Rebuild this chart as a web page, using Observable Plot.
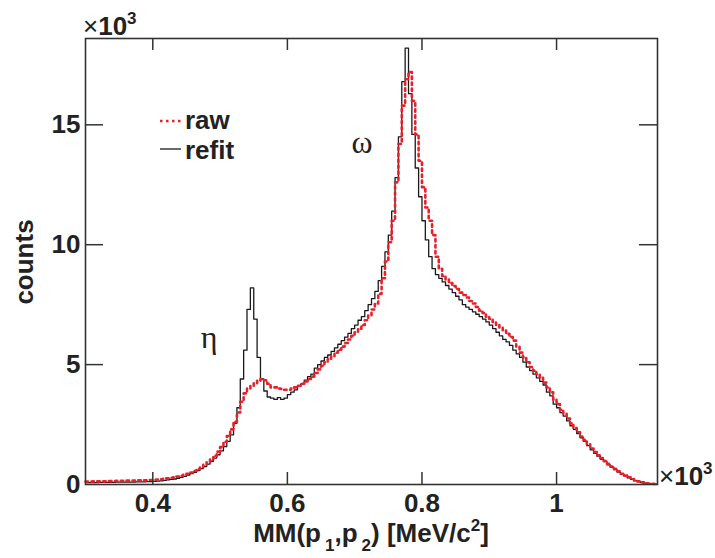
<!DOCTYPE html>
<html><head><meta charset="utf-8">
<script src="https://cdn.jsdelivr.net/npm/d3@7"></script>
<script src="https://cdn.jsdelivr.net/npm/@observablehq/plot@0.6"></script>
<style>body{margin:0;background:#fff}</style>
</head><body><div id="chart"></div>
<script>
// Histogram bins: left edge of first bin and bin width (MeV/c^2 x10^3)
const binStart = 0.30;
const binWidth = 0.005;
// counts (x10^3) per bin, refit (black solid)
const refit = [
  0.08,0.08,0.08,0.08,0.09,0.09,0.09,0.09,0.09,0.10,0.10,0.10,0.10,0.10,0.10,0.11,0.11,0.11,0.12,0.12,
  0.13,0.14,0.15,0.17,0.19,0.21,0.23,0.26,0.30,0.34,0.39,0.45,0.51,0.58,0.66,0.75,0.85,0.97,1.10,1.24,
  1.40,1.58,1.80,2.07,2.55,3.20,4.40,5.60,7.30,8.20,6.90,5.30,4.40,3.90,3.65,3.60,3.55,3.62,3.55,3.60,
  3.75,3.85,3.95,4.10,4.20,4.35,4.50,4.60,4.85,5.00,5.15,5.30,5.40,5.55,5.70,5.85,6.00,6.15,6.30,6.50,
  6.65,6.85,7.00,7.25,7.50,7.75,8.05,8.50,9.10,9.70,10.4,11.4,12.8,14.5,16.8,18.2,16.3,14.6,13.2,12.0,
  11.0,10.2,9.50,9.00,8.75,8.60,8.45,8.30,8.15,8.00,7.85,7.70,7.50,7.40,7.30,7.20,7.10,7.00,6.90,6.78,
  6.65,6.50,6.35,6.20,6.05,5.95,5.80,5.60,5.45,5.30,5.10,4.90,4.75,4.60,4.45,4.30,4.15,3.85,3.70,3.35,
  3.20,3.00,2.85,2.65,2.45,2.30,2.12,1.95,1.80,1.62,1.45,1.30,1.18,1.05,0.95,0.82,0.72,0.62,0.52,0.42,
  0.35,0.28,0.21,0.16,0.12,0.08,0.06,0.04,0.02,0.01
];
// counts (x10^3) per bin, raw (red dotted)
const raw = [
  0.12,0.12,0.13,0.13,0.13,0.13,0.14,0.14,0.14,0.15,0.15,0.15,0.16,0.16,0.16,0.17,0.17,0.18,0.18,0.19,
  0.20,0.21,0.22,0.24,0.26,0.28,0.30,0.33,0.36,0.40,0.45,0.50,0.57,0.64,0.72,0.82,0.93,1.05,1.20,1.37,
  1.56,1.78,2.02,2.30,2.62,3.00,3.45,3.80,4.00,4.12,4.22,4.32,4.40,4.35,4.20,4.05,4.05,4.00,3.98,3.95,
  3.95,4.00,4.05,4.12,4.20,4.30,4.40,4.50,4.65,4.80,4.95,5.10,5.22,5.35,5.50,5.62,5.75,5.90,6.05,6.20,
  6.35,6.50,6.65,6.85,7.05,7.30,7.55,7.95,8.60,9.30,10.1,11.0,12.6,14.2,15.8,16.9,17.2,16.0,14.6,13.5,
  12.4,11.55,11.0,10.4,9.50,9.00,8.70,8.55,8.40,8.28,8.15,8.00,7.90,7.80,7.65,7.55,7.40,7.25,7.15,7.00,
  6.90,6.78,6.65,6.55,6.42,6.28,6.15,6.00,5.75,5.50,5.30,5.10,4.90,4.75,4.60,4.45,4.25,4.05,3.85,3.55,
  3.35,3.12,2.95,2.75,2.55,2.35,2.18,2.00,1.85,1.68,1.50,1.35,1.22,1.10,0.98,0.86,0.75,0.65,0.55,0.45,
  0.37,0.30,0.23,0.17,0.13,0.09,0.06,0.04,0.03,0.02
];
const xTicks = [0.4, 0.6, 0.8, 1.0];
const xTickLabels = ["0.4", "0.6", "0.8", "1"];
const yTicks = [0, 5, 10, 15];
const yTickLabels = ["0", "5", "10", "15"];
const seriesNames = ["raw", "refit"];
const seriesColors = ["#e8202a", "#1a1a1a"];
const xDomain = [0.3, 1.15];
const yDomain = [0, 18.6];

function steps(vals) {
  const pts = vals.map((v, i) => ({x: +(binStart + i * binWidth).toFixed(4), y: v}));
  pts.push({x: +(binStart + vals.length * binWidth).toFixed(4), y: vals[vals.length - 1]});
  return pts;
}

const W = 715, H = 558, mL = 85, mR = 58, mT = 38, mB = 74;
const pxX = (xDomain[1] - xDomain[0]) / (W - mL - mR);
const pxY = (yDomain[1] - yDomain[0]) / (H - mT - mB);
const font = "'Liberation Sans', Arial, Helvetica, sans-serif";

const svg = Plot.plot({
  width: W, height: H,
  marginLeft: mL, marginRight: mR, marginTop: mT, marginBottom: mB,
  style: {fontFamily: font, background: "#fff", color: "#222"},
  x: {domain: xDomain},
  y: {domain: yDomain},
  marks: [
    Plot.line(steps(refit), {x: "x", y: "y", curve: "step-after", stroke: seriesColors[1], strokeWidth: 1.3}),
    Plot.line(steps(raw), {x: "x", y: "y", curve: "step-after", stroke: seriesColors[0], strokeWidth: 2.6, strokeDasharray: "2.5,3.5"}),
    Plot.frame({stroke: "#333", strokeWidth: 1.6}),
    // inward tick marks
    Plot.ruleX(xTicks, {y1: yDomain[0], y2: yDomain[0] + 12 * pxY, stroke: "#333", strokeWidth: 1.5}),
    Plot.ruleX(xTicks, {y1: yDomain[1], y2: yDomain[1] - 12 * pxY, stroke: "#333", strokeWidth: 1.5}),
    Plot.ruleY(yTicks.slice(1), {x1: xDomain[0], x2: xDomain[0] + 18 * pxX, stroke: "#333", strokeWidth: 1.5}),
    Plot.ruleY(yTicks.slice(1), {x1: xDomain[1], x2: xDomain[1] - 18 * pxX, stroke: "#333", strokeWidth: 1.5}),
    Plot.axisX(xTicks, {anchor: "bottom", tickSize: 0, tickPadding: 9, fontSize: 26, fontWeight: "bold",
      tickFormat: d => xTickLabels[xTicks.indexOf(d)], label: null, fill: "#222"}),
    Plot.axisY(yTicks, {anchor: "left", tickSize: 0, tickPadding: 5, fontSize: 26, fontWeight: "bold",
      tickFormat: d => yTickLabels[yTicks.indexOf(d)], label: null, fill: "#222"})
  ]
});

const s = d3.select(svg);
function txt(x, y, opts = {}) {
  return s.append("text").attr("x", x).attr("y", y)
    .attr("font-family", opts.family || font)
    .attr("font-size", opts.size || 26)
    .attr("font-weight", opts.weight || "bold")
    .attr("fill", "#222")
    .attr("text-anchor", opts.anchor || "start");
}
// y label
txt(0, 0, {anchor: "middle"}).attr("transform", "translate(33,262) rotate(-90)").text("counts");
// x label
const xl = txt(371, 542, {anchor: "middle"});
xl.append("tspan").text("MM(p");
xl.append("tspan").attr("font-size", 17).attr("dx", 4).attr("dy", 9).text("1");
xl.append("tspan").attr("dy", -9).text(",p");
xl.append("tspan").attr("font-size", 17).attr("dx", 4).attr("dy", 9).text("2");
xl.append("tspan").attr("dy", -9).text(") [MeV/c");
xl.append("tspan").attr("font-size", 17).attr("dy", -11).text("2");
xl.append("tspan").attr("dy", 11).text("]");
// exponent labels
const e1 = txt(83, 35, {});
e1.append("tspan").attr("font-weight", "normal").text("×");
e1.append("tspan").text("10");
e1.append("tspan").attr("font-size", 17).attr("dy", -11).text("3");
const e2 = txt(659, 485, {});
e2.append("tspan").attr("font-weight", "normal").text("×");
e2.append("tspan").text("10");
e2.append("tspan").attr("font-size", 17).attr("dy", -11).text("3");
// peak labels
txt(362, 153, {family: "'Liberation Serif', 'DejaVu Serif', serif", weight: "normal", size: 32, anchor: "middle"}).text("ω");
txt(209, 348, {family: "'Liberation Serif', 'DejaVu Serif', serif", weight: "normal", size: 32, anchor: "middle"}).text("η");
// legend
s.append("line").attr("x1", 160).attr("x2", 181).attr("y1", 121).attr("y2", 121)
  .attr("stroke", seriesColors[0]).attr("stroke-width", 2.6).attr("stroke-dasharray", "2.5,3.5");
s.append("line").attr("x1", 160).attr("x2", 181).attr("y1", 149).attr("y2", 149)
  .attr("stroke", seriesColors[1]).attr("stroke-width", 1.3);
txt(185, 129, {}).text(seriesNames[0]);
txt(185, 159, {}).text(seriesNames[1]);

document.getElementById("chart").appendChild(svg);
</script>
</body></html>
